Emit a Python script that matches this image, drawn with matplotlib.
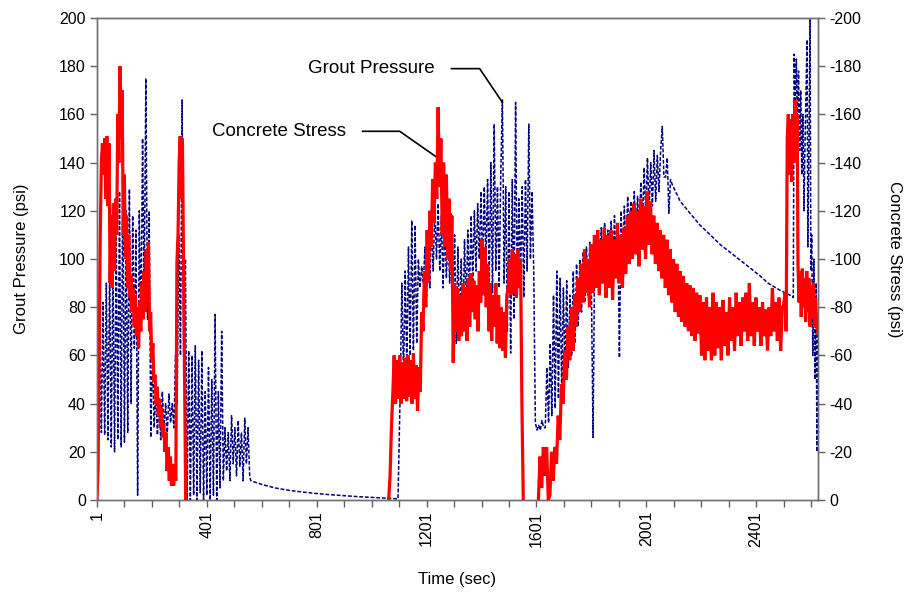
import numpy as np
import matplotlib.pyplot as plt

plt.rcParams['font.family'] = ['Liberation Sans', 'DejaVu Sans']
plt.rcParams['axes.unicode_minus'] = False

# ---- grout pressure (psi) ----
# first injection, t = 5 .. 557 s
grout_a = [30, 75, 28, 82, 27, 90, 25, 95, 22, 100, 20, 112, 25, 128, 22, 135,
           24, 120, 28, 129, 40, 118, 63, 112, 2, 120, 70, 150, 85, 175, 75, 120,
           26, 63, 30, 45, 27, 42, 25, 45, 30, 40, 28, 44, 32, 40, 30, 60,
           40, 110, 60, 166, 50, 100, 0, 62, 0, 60, 2, 64, 0, 58, 3, 62,
           0, 45, 2, 55, 0, 50, 2, 77, 0, 45, 5, 70, 8, 30, 12, 28,
           8, 35, 15, 30, 10, 33, 14, 28, 8, 34, 15, 30, 10]
# bleed-off between injections
grout_decay_a_t = [561, 600, 650, 700, 750, 800, 850, 900, 950, 1000, 1050, 1090, 1097]
grout_decay_a = [8, 6.5, 5, 4, 3.3, 2.7, 2.2, 1.8, 1.4, 1.1, 0.8, 0.6, 0.5]
# second injection, t = 1105 .. 1627 s
grout_b = [46, 90, 50, 95, 55, 105, 60, 116, 62, 114, 65, 100, 88, 97, 90, 105,
           84, 110, 88, 118, 95, 122, 100, 123, 95, 118, 88, 115, 92, 112, 90, 119,
           80, 110, 65, 105, 72, 100, 70, 108, 80, 112, 85, 118, 90, 120, 95, 123,
           100, 128, 95, 130, 98, 133, 90, 140, 86, 156, 95, 130, 88, 135, 166, 90,
           130, 70, 128, 61, 133, 75, 165, 85, 125, 90, 130, 84, 133, 95, 156, 100,
           128, 95, 32, 29, 31, 29, 33, 30]
# third injection, t = 1633 .. 2089 s
grout_c = [30, 55, 32, 65, 35, 85, 38, 95, 42, 92, 45, 88, 50, 91, 55, 85,
           60, 95, 65, 98, 72, 100, 78, 103, 82, 105, 85, 107, 88, 26, 104, 90,
           110, 92, 113, 90, 115, 93, 112, 95, 116, 94, 118, 96, 114, 59, 120, 98,
           122, 100, 126, 104, 124, 103, 128, 108, 126, 110, 132, 115, 138, 118, 142, 120,
           140, 122, 145, 124, 143, 128, 145, 155, 134, 134, 142, 119, 133]
grout_decay_b_t = [2095, 2124, 2160, 2197, 2234, 2270, 2343, 2415, 2444, 2488, 2524, 2536]
grout_decay_b = [131, 124, 119, 114, 110, 106, 99.5, 93, 90, 87, 85, 84]
# final injection
grout_d_t = [2539, 2543, 2547, 2551, 2555, 2559, 2563, 2567, 2571, 2575, 2579, 2586,
             2589, 2592, 2597, 2600, 2603, 2607, 2611, 2615, 2619, 2622, 2625]
grout_d = [185, 165, 183, 155, 178, 145, 170, 135, 160, 120, 150, 191,
           105, 135, 200, 95, 110, 60, 100, 50, 90, 20, 70]

# ---- concrete stress (psi, compression shown negative) ----
stress_a = [0, 13, 60, 110, 140, 148, 135, 150, 125, 151, 122, 148, 90, 118, 88, 123,
            95, 125, 110, 160, 140, 180, 150, 170, 110, 135, 100, 118, 88, 110, 84, 93,
            78, 88, 72, 85, 68, 80, 63, 82, 70, 90, 75, 95, 78, 104, 82, 107,
            70, 78, 58, 65, 49, 52, 40, 47, 35, 42, 30, 38, 26, 32, 20, 28,
            12, 22, 8, 18, 6, 15, 6, 12, 8, 99, 110, 140, 151, 125, 150, 100,
            50, 0]
stress_b = [0, 10, 30, 44, 60, 40, 58, 42, 60, 40, 57, 42, 59, 41, 60, 43,
            58, 40, 61, 42, 56, 37, 55, 45, 78, 70, 95, 80, 112, 90, 120, 105,
            133, 115, 140, 125, 163, 130, 150, 110, 140, 105, 135, 100, 125, 95, 118, 57,
            90, 70, 88, 66, 85, 68, 90, 70, 88, 66, 92, 72, 94, 78, 91, 75,
            89, 70, 95, 82, 108, 85, 105, 80, 98, 70, 90, 66, 85, 72, 90, 65,
            85, 63, 80, 62, 78, 59, 85, 88, 100, 85, 104, 86, 102, 84, 104, 88,
            100, 40, 0]
stress_c = [0, 18, 5, 22, 10, 22, 0, 2, 20, 8, 22, 15, 35, 25, 48, 40,
            62, 50, 72, 58, 80, 62, 85, 72, 92, 78, 98, 82, 104, 86, 100, 80,
            106, 86, 110, 88, 112, 85, 108, 90, 113, 84, 110, 88, 112, 83, 108, 92,
            115, 90, 110, 88, 113, 94, 118, 98, 120, 100, 123, 102, 120, 97, 125, 104,
            122, 100, 128, 106, 124, 102, 118, 98, 115, 95, 112, 92, 110, 88, 108, 85,
            104, 82, 100, 78, 98, 76, 95, 74, 93, 72, 90, 70, 89, 68, 88, 66,
            86, 69, 85, 60, 82, 58, 84, 62, 80, 58, 86, 60, 82, 63, 80, 58,
            83, 64, 78, 60, 84, 66, 80, 62, 86, 68, 82, 64, 84, 70, 86, 66,
            90, 68, 82, 64, 84, 70, 80, 64, 82, 68, 79, 62, 80, 68, 88, 70,
            82, 66, 84, 62, 80]
stress_d_t = [2500, 2506, 2510, 2514, 2518, 2522, 2526, 2530, 2534, 2538, 2542, 2546,
              2550, 2553, 2557, 2561, 2565, 2569, 2573, 2577, 2581, 2585, 2589, 2593,
              2597, 2601, 2605, 2609, 2613, 2617, 2621, 2626]
stress_d = [80, 86, 70, 150, 160, 135, 158, 132, 160, 140, 166, 145,
            160, 98, 82, 95, 76, 96, 80, 92, 74, 95, 78, 92,
            72, 88, 76, 90, 72, 84, 74, 69]

grout_t = np.concatenate([np.linspace(5, 557, len(grout_a)), grout_decay_a_t,
                          np.linspace(1105, 1627, len(grout_b)),
                          np.linspace(1633, 2089, len(grout_c)), grout_decay_b_t,
                          grout_d_t])
grout = np.concatenate([grout_a, grout_decay_a, grout_b, grout_c,
                        grout_decay_b, grout_d])

# gauge sits at zero between injections; leave those stretches undrawn
gap = [np.nan]
stress_t = np.concatenate([np.linspace(1, 324, len(stress_a)), [700],
                           np.linspace(1063, 1553, len(stress_b)), [1580],
                           np.linspace(1608, 2496, len(stress_c)), stress_d_t])
stress = -np.concatenate([stress_a, gap, stress_b, gap, stress_c, stress_d])

fig = plt.figure(figsize=(9.08, 6.03), dpi=100)
ax = fig.add_axes([0.1068, 0.1708, 0.7941, 0.7993])
ax2 = ax.twinx()

ax.plot(grout_t, grout, color='#000080', lw=1.1, ls=(0, (2.5, 1.2)))
ax2.plot(stress_t, stress, color='#ff0000', lw=2.3, solid_joinstyle='miter')

ax.set_xlim(1, 2626)
ax.set_ylim(0, 200)
ax2.set_ylim(0, -200)
ax.set_yticks(np.arange(0, 201, 20))
ax2.set_yticks(np.arange(0, -201, -20))

xt = np.arange(1, 2602, 100)
ax.set_xticks(xt)
ax.set_xticklabels([str(v) if (v - 1) % 400 == 0 else '' for v in xt],
                   rotation=90)

for a in (ax, ax2):
    a.tick_params(direction='out', length=5, width=1, color='#606060',
                  labelsize=11.5, pad=3)
    for s in a.spines.values():
        s.set_color('#707070')
        s.set_linewidth(1)

ax.set_xlabel('Time (sec)', fontsize=12)
ax.xaxis.set_label_coords(0.5, -0.15)
ax.set_ylabel('Grout Pressure (psi)', fontsize=12, va='center')
ax.yaxis.set_label_coords(-0.104, 0.5)
ax2.set_ylabel('Concrete Stress (psi)', fontsize=12, rotation=270, va='center')
ax2.yaxis.set_label_coords(1.106, 0.5)

ax.annotate('Grout Pressure', xy=(1477, 165), xytext=(769, 179),
            fontsize=13.5, ha='left', va='center',
            arrowprops=dict(arrowstyle='-', color='black', lw=1.2,
                            shrinkA=10, shrinkB=0, relpos=(1, 0.5),
                            connectionstyle='angle,angleA=0,angleB=124,rad=0'))
ax.annotate('Concrete Stress', xy=(1241, 142), xytext=(419, 153),
            fontsize=13.5, ha='left', va='center',
            arrowprops=dict(arrowstyle='-', color='black', lw=1.2,
                            shrinkA=10, shrinkB=0, relpos=(1, 0.5),
                            connectionstyle='angle,angleA=0,angleB=145,rad=0'))

fig.savefig('out.png', dpi=100, facecolor='white')
